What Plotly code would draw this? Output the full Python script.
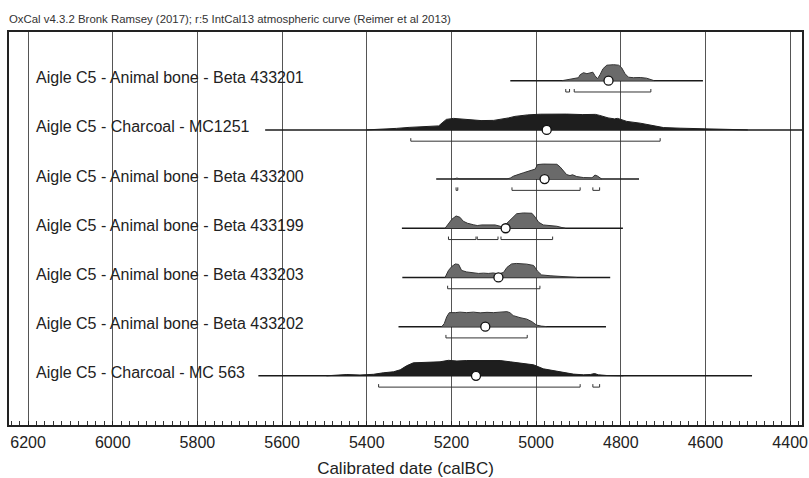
import plotly.graph_objects as go

# OxCal multiplot: calibrated ranges for Aigle C5 samples
title_txt = "OxCal v4.3.2 Bronk Ramsey (2017); r:5 IntCal13 atmospheric curve (Reimer et al 2013)"

labels = [
    "Aigle C5 - Animal bone - Beta 433201",
    "Aigle C5 - Charcoal - MC1251",
    "Aigle C5 - Animal bone - Beta 433200",
    "Aigle C5 - Animal bone - Beta 433199",
    "Aigle C5 - Animal bone - Beta 433203",
    "Aigle C5 - Animal bone - Beta 433202",
    "Aigle C5 - Charcoal - MC 563",
]
medians = [4829, 4975, 4980, 5072, 5089, 5120, 5142]
line_from = [5061, 5640, 5236, 5317, 5316, 5325, 5656]
line_to = [4606, 4300, 4757, 4795, 4825, 4835, 4490]

# 95.4% ranges (calBC)
r1_ranges = [(4930, 4921), (4910, 4729)]
r2_ranges = [(5296, 4707)]
r3_ranges = [(5189, 5185), (5057, 4896), (4866, 4850)]
r4_ranges = [(5207, 5142), (5139, 5090), (5083, 4961)]
r5_ranges = [(5209, 4991)]
r6_ranges = [(5213, 5021)]
r7_ranges = [(5372, 4896), (4866, 4850)]

# probability distributions (year, relative height)
r1_yr = [4939, 4928, 4912, 4900, 4896, 4888, 4880, 4872, 4866, 4861, 4855, 4849, 4842, 4833, 4817, 4805, 4798, 4790, 4782, 4770, 4754, 4739, 4727, 4721]
r1_p = [0, 1, 2, 3, 6, 8, 7, 7.5, 8.5, 5, 2, 6, 12, 15.5, 16, 15.5, 13, 7, 3.5, 3, 3.2, 2.5, 1, 0]

r2_yr = [5400, 5360, 5330, 5300, 5260, 5230, 5222, 5212, 5195, 5180, 5160, 5130, 5100, 5080, 5065, 5050, 5020, 4990, 4960, 4928, 4890, 4860, 4850, 4830, 4815, 4808, 4800, 4786, 4754, 4723, 4699, 4660, 4605, 4540, 4500]
r2_p = [0, 0.5, 1.5, 2.5, 3.5, 4, 7, 10.5, 11.5, 11, 9.8, 9.3, 9.5, 10.5, 12, 13.5, 15, 15.7, 16, 15.8, 15.3, 15.5, 14.5, 12, 11, 11.5, 10.5, 8.5, 6.7, 4, 2.3, 1.7, 1, 0.4, 0]

r3_yr = [5195, 5187, 5180, 5069, 5061, 5053, 5030, 5010, 5002, 4997, 4983, 4951, 4943, 4935, 4928, 4920, 4914, 4904, 4888, 4868, 4861, 4855, 4845]
r3_p = [0, 1, 0.2, 0.2, 1, 3, 6.3, 8.5, 10, 14.5, 15, 14.8, 12, 8, 4.5, 3.5, 4.3, 2.5, 1.5, 1.3, 4, 3, 0]

r4_yr = [5215, 5207, 5199, 5189, 5180, 5172, 5162, 5148, 5139, 5128, 5117, 5106, 5097, 5085, 5079, 5069, 5057, 5046, 5030, 5010, 5002, 4994, 4983, 4967, 4951, 4939, 4931]
r4_p = [0, 4, 9, 12.3, 11, 7, 5, 3.5, 2.7, 3.3, 3.5, 3, 3.3, 2, 1, 5, 10, 14.5, 15.3, 15, 11, 6, 3.3, 2.7, 2, 0.7, 0]

r5_yr = [5215, 5207, 5199, 5191, 5183, 5176, 5164, 5148, 5136, 5124, 5113, 5101, 5089, 5077, 5069, 5058, 5046, 5022, 5006, 4996, 4987, 4967, 4943, 4920, 4904]
r5_p = [0, 7, 11, 13.5, 13, 7, 5.5, 4.5, 4, 4.3, 4, 4.5, 3.5, 5, 10, 13.5, 14, 13.3, 12, 6, 2.5, 1.7, 1.3, 0.5, 0]

r6_yr = [5223, 5217, 5211, 5205, 5191, 5180, 5164, 5148, 5132, 5116, 5101, 5085, 5069, 5062, 5054, 5038, 5022, 5010, 4999, 4987, 4975]
r6_p = [0, 3, 10, 14, 14, 14.5, 14, 14.5, 13.8, 14.3, 14, 14.5, 15, 14, 11, 9, 7.5, 5, 1.5, 0.5, 0]

r7_yr = [5495, 5471, 5447, 5416, 5384, 5361, 5337, 5321, 5306, 5290, 5270, 5247, 5227, 5207, 5187, 5164, 5132, 5085, 5061, 5030, 5006, 4983, 4959, 4936, 4912, 4888, 4872, 4862, 4853, 4833, 4794]
r7_p = [0, 1, 1.3, 0.8, 1.5, 3, 4, 6, 10, 13, 13.3, 13, 14, 15.5, 14.8, 15.3, 15.5, 15.3, 14, 12.5, 11, 7, 5, 3.3, 1.7, 1, 1.3, 2.3, 1, 0.3, 0]

dist_yr = [r1_yr, r2_yr, r3_yr, r4_yr, r5_yr, r6_yr, r7_yr]
dist_p = [r1_p, r2_p, r3_p, r4_p, r5_p, r6_p, r7_p]
ranges = [r1_ranges, r2_ranges, r3_ranges, r4_ranges, r5_ranges, r6_ranges, r7_ranges]

ROW_PX = 49.2  # pixels per row
dark_rows = [1, 6]

fig = go.Figure()

for i, lab in enumerate(labels):
    base = -i
    # baseline
    fig.add_trace(go.Scatter(x=[line_from[i], line_to[i]], y=[base, base], mode='lines',
                             line=dict(color='#1a1a1a', width=1.5), hoverinfo='skip'))
    # distribution
    xs = dist_yr[i]
    ys = [base + p / ROW_PX for p in dist_p[i]]
    if i in dark_rows:
        fc, lc = '#1e1e1e', '#1e1e1e'
    else:
        fc, lc = '#6a6a6a', '#333333'
    fig.add_trace(go.Scatter(x=xs, y=ys, mode='lines', fill='toself', fillcolor=fc,
                             line=dict(color=lc, width=1), hoverinfo='skip'))
    # range brackets
    yb = base - 11.3 / ROW_PX
    t = 3 / ROW_PX
    bx, by = [], []
    for a, b in ranges[i]:
        bx += [a, a, b, b, None]
        by += [yb + t, yb, yb, yb + t, None]
    fig.add_trace(go.Scatter(x=bx, y=by, mode='lines', line=dict(color='#333333', width=1),
                             hoverinfo='skip'))
    fig.add_annotation(x=6187, y=base, text=lab, showarrow=False, xanchor='left',
                       yanchor='middle', yshift=3,
                       font=dict(size=16, color='#222222'))

# median markers
fig.add_trace(go.Scatter(x=medians, y=[-i for i in range(len(labels))], mode='markers',
                         marker=dict(size=9, color='white', line=dict(color='#111111', width=1.3)),
                         hoverinfo='skip'))

fig.add_annotation(x=0, y=1, xref='paper', yref='paper', text=title_txt, showarrow=False,
                   xanchor='left', yanchor='bottom', xshift=-2, yshift=5,
                   font=dict(size=11.4, color='#333333'))

fig.update_xaxes(range=[6245, 4372], tick0=6200, dtick=200, ticks='inside', ticklen=4,
                 tickcolor='#222222', tickfont=dict(size=16, color='#222222'),
                 ticklabelstandoff=2,
                 showgrid=True, gridcolor='#555555', gridwidth=1, zeroline=False,
                 showline=True, linecolor='#222222', linewidth=1.5, mirror=True,
                 automargin=False, layer='above traces',
                 minor=dict(dtick=20, ticks='inside', ticklen=4, tickcolor='#333333', showgrid=False),
                 title=dict(text='Calibrated date (calBC)', font=dict(size=17, color='#222222'), standoff=15))
fig.update_yaxes(range=[-7.0, 0.99], showticklabels=False, ticks='', showgrid=False,
                 automargin=False,
                 zeroline=False, showline=True, linecolor='#222222', linewidth=1.5, mirror=True)

fig.update_layout(width=809, height=478, margin=dict(l=9, r=7, t=32, b=53),
                  plot_bgcolor='white', paper_bgcolor='white', showlegend=False,
                  font=dict(family='Liberation Sans, Arial, sans-serif'))

# drop the default 8px page margin so the figure fills the window; no modebar
fig.write_html("out.html", config={'displayModeBar': False},
               post_script="document.body.style.margin='0';")
